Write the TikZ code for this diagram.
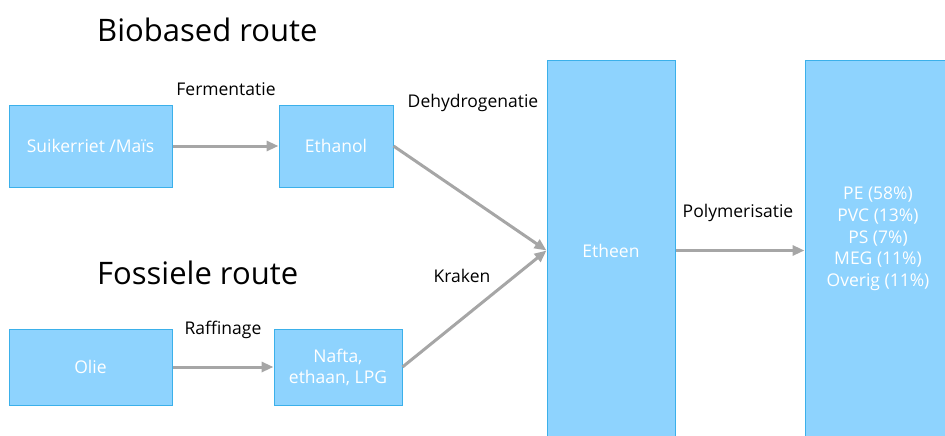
\documentclass[tikz,border=0pt]{standalone}
\usepackage{fontspec}
\setmainfont{Open Sans}
\usepackage{tikz}
\usetikzlibrary{arrows.meta}

\definecolor{boxfill}{HTML}{8ED3FE}
\definecolor{boxline}{HTML}{3BB0EA}
\definecolor{arrgray}{HTML}{A6A6A6}

\tikzset{
  box/.style={draw=boxline, fill=boxfill, line width=1pt, text=white,
    inner sep=0pt, align=center, font=\fontsize{17.5}{21}\selectfont},
  lbl/.style={text=black, inner sep=0pt, font=\fontsize{17.5}{21}\selectfont},
  ttl/.style={text=black, inner sep=0pt, anchor=west, font=\fontsize{31}{36}\selectfont},
  arr/.style={draw=arrgray, line width=3pt, -{Triangle[length=12pt,width=10pt]}}
}

\begin{document}
\begin{tikzpicture}[x=1pt, y=-1pt]
    \useasboundingbox (0,0) rectangle (945,436);

    % titles
    \node[ttl] (tbio) at (97,30) {Biobased route};
    \node[ttl] (tfos) at (97,273) {Fossiele route};

    % boxes
    \node[box, minimum width=163pt, minimum height=82pt] (suiker) at (90.5,146) {Suikerriet /Maïs};
    \node[box, minimum width=114pt, minimum height=82pt] (ethanol) at (336,146) {Ethanol};
    \node[box, minimum width=163pt, minimum height=76pt] (olie) at (90.5,367) {Olie};
    \node[box, minimum width=128pt, minimum height=76pt] (nafta) at (338,367) {Nafta,\\ethaan, LPG};
    \node[box, minimum width=128pt, minimum height=379pt] (etheen) at (611,250.5) {Etheen};
    \node[box, minimum width=145pt, minimum height=379pt] (prod) at (877.5,250.5) {};
    \node[box, draw=none, fill=none, font=\fontsize{17.5}{21.75}\selectfont] (prodtxt) at (878,239)
        {PE (58\%)\\PVC (13\%)\\PS (7\%)\\MEG (11\%)\\Overig (11\%)};

    % process labels
    \node[lbl] (ferm) at (226,89) {Fermentatie};
    \node[lbl] (dehyd) at (473,103) {Dehydrogenatie};
    \node[lbl] (kraak) at (462,276) {Kraken};
    \node[lbl] (raff) at (223,330) {Raffinage};
    \node[lbl] (polym) at (738,213) {Polymerisatie};

    % arrows
    \draw[arr] (suiker) -- (ethanol);
    \draw[arr] (olie) -- (nafta);
    \draw[arr] (ethanol.east) -- (etheen.west);
    \draw[arr] (nafta.east) -- (etheen.west);
    \draw[arr] (etheen.east |- prod.west) -- (prod.west);

\end{tikzpicture}
\end{document}
